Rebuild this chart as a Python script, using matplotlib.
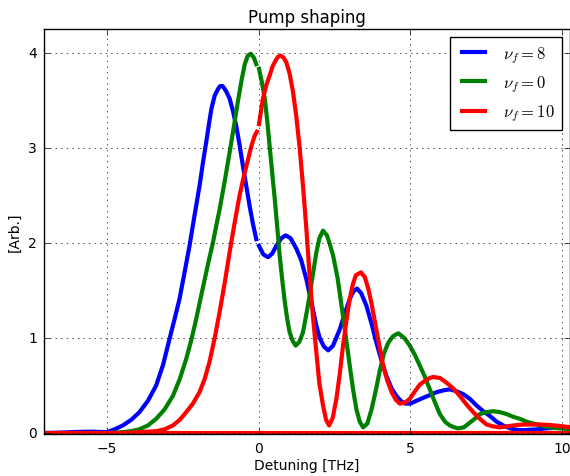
import numpy as np
import matplotlib
matplotlib.use("Agg")
import matplotlib.pyplot as plt

nan = np.nan

# values (gap at zero detuning kept as nan)
blue_x = [-7.1, -6.5, -6.0, -5.5, -5.0, -4.75, -4.48, -4.2, -3.93, -3.65, -3.38, -3.15,
          -2.94, -2.78, -2.61, -2.45, -2.28, -2.12, -1.95, -1.84, -1.73, -1.64, -1.56,
          -1.45, -1.34, -1.27, -1.19, -1.08, -0.96, -0.85, -0.74, -0.63, -0.52, -0.41,
          -0.3, -0.19, -0.08, nan,
          0.01, 0.15, 0.31, 0.45, 0.58, 0.75, 0.89, 1.05, 1.24, 1.4, 1.57, 1.74, 1.9, 2.01,
          2.15, 2.29, 2.45, 2.67, 2.85, 3.0, 3.12, 3.24, 3.38, 3.55, 3.72, 3.88, 4.05,
          4.21, 4.38, 4.54, 4.68, 4.82, 5.0, 5.2, 5.42, 5.64, 5.86, 6.1, 6.3, 6.52,
          6.74, 6.96, 7.18, 7.4, 7.62, 7.84, 8.06, 8.28, 8.5, 8.72, 8.94, 9.2, 9.49,
          9.8, 10.3]
blue_y = [0.0, 0.005, 0.012, 0.015, 0.01, 0.04, 0.08, 0.14, 0.22, 0.34, 0.5, 0.72,
          0.99, 1.19, 1.41, 1.68, 1.97, 2.28, 2.6, 2.84, 3.06, 3.25, 3.41,
          3.55, 3.62, 3.65, 3.65, 3.6, 3.52, 3.39, 3.23, 3.03, 2.81, 2.6,
          2.39, 2.2, 2.04, nan,
          1.97, 1.88, 1.85, 1.89, 1.97, 2.05, 2.08, 2.05, 1.94, 1.82, 1.62, 1.37, 1.13, 1.0,
          0.91, 0.87, 0.92, 1.09, 1.27, 1.41, 1.49, 1.52, 1.47, 1.34, 1.15, 0.95, 0.76,
          0.6, 0.47, 0.39, 0.34, 0.31, 0.31, 0.34, 0.37, 0.4, 0.43, 0.45, 0.46, 0.44,
          0.41, 0.36, 0.29, 0.23, 0.18, 0.12, 0.08, 0.05, 0.035, 0.03, 0.035, 0.04, 0.05,
          0.055, 0.06]

green_x = [-7.1, -6.0, -5.0, -4.48, -4.2, -3.93, -3.65, -3.38, -3.1, -2.83, -2.6, -2.39,
           -2.22, -2.06, -1.9, -1.73, -1.62, -1.51, -1.4, -1.29, -1.12, -0.96, -0.82,
           -0.68, -0.56, -0.46, -0.36, -0.26, -0.16, -0.08, nan,
           0.01, 0.1, 0.2, 0.28, 0.36, 0.45, 0.53, 0.61, 0.69, 0.78, 0.86, 0.94, 1.02,
           1.12, 1.22, 1.34, 1.46, 1.57, 1.68, 1.79, 1.9, 2.0, 2.12, 2.25, 2.35, 2.45,
           2.6, 2.73, 2.87, 3.0, 3.11, 3.22, 3.33, 3.44, 3.58, 3.72, 3.86, 4.0, 4.13,
           4.27, 4.43, 4.6, 4.8, 4.98, 5.15, 5.31, 5.48, 5.64, 5.8, 5.97, 6.14, 6.3,
           6.45, 6.58, 6.76, 6.96, 7.12, 7.29, 7.5, 7.73, 7.95, 8.17, 8.4, 8.61, 8.83,
           9.05, 9.3, 9.6, 9.9, 10.3]
green_y = [0.0, 0.0, 0.0, 0.01, 0.02, 0.04, 0.08, 0.15, 0.25, 0.39, 0.57, 0.78,
           0.98, 1.2, 1.44, 1.69, 1.85, 2.0, 2.18, 2.35, 2.65, 2.95, 3.22,
           3.5, 3.72, 3.88, 3.97, 3.99, 3.95, 3.88, nan,
           3.83, 3.7, 3.52, 3.29, 3.02, 2.72, 2.46, 2.17, 1.87, 1.6, 1.38, 1.2, 1.06,
           0.97, 0.92, 0.96, 1.06, 1.25, 1.45, 1.68, 1.9, 2.05, 2.13, 2.08, 1.98, 1.87,
           1.63, 1.34, 1.02, 0.71, 0.46, 0.25, 0.12, 0.06, 0.1, 0.25, 0.45, 0.67, 0.84,
           0.95, 1.02, 1.05, 1.0, 0.92, 0.82, 0.71, 0.59, 0.46, 0.33, 0.2, 0.12, 0.08,
           0.06, 0.05, 0.06, 0.11, 0.15, 0.2, 0.22, 0.23, 0.22, 0.2, 0.17, 0.15, 0.12,
           0.1, 0.08, 0.06, 0.05, 0.04]

red_x = [-7.1, -6.0, -5.0, -4.5, -4.2, -3.93, -3.65, -3.38, -3.1, -2.83, -2.6, -2.39,
         -2.17, -1.95, -1.78, -1.62, -1.45, -1.29, -1.12, -0.96, -0.8, -0.63, -0.49,
         -0.35, -0.24, -0.13, -0.06, nan,
         0.01, 0.14, 0.25, 0.36, 0.46, 0.56, 0.64, 0.72, 0.82, 0.91, 1.02, 1.13, 1.24,
         1.35, 1.46, 1.57, 1.68, 1.79, 1.9, 2.0, 2.12, 2.22, 2.32, 2.44, 2.56, 2.67,
         2.78, 2.89, 3.0, 3.1, 3.2, 3.37, 3.5, 3.61, 3.72, 3.83, 3.97, 4.1, 4.24, 4.38,
         4.52, 4.65, 4.82, 4.98, 5.15, 5.31, 5.48, 5.64, 5.75, 5.97, 6.19, 6.41, 6.63,
         6.85, 7.07, 7.29, 7.51, 7.73, 7.95, 8.17, 8.39, 8.7, 9.05, 9.3, 9.6, 9.9, 10.3]
red_y = [0.0, 0.0, 0.0, 0.0, 0.005, 0.01, 0.015, 0.02, 0.04, 0.08, 0.14, 0.22,
         0.31, 0.43, 0.57, 0.75, 1.0, 1.27, 1.58, 1.9, 2.2, 2.5, 2.7,
         2.88, 3.02, 3.13, 3.17, nan,
         3.25, 3.52, 3.66, 3.76, 3.86, 3.92, 3.96, 3.97, 3.95, 3.9, 3.78, 3.59, 3.33,
         3.0, 2.6, 2.15, 1.65, 1.22, 0.85, 0.52, 0.29, 0.14, 0.08, 0.16, 0.36, 0.62,
         0.92, 1.18, 1.41, 1.56, 1.66, 1.69, 1.64, 1.52, 1.36, 1.17, 0.93, 0.71, 0.55, 0.43,
         0.35, 0.31, 0.32, 0.36, 0.44, 0.51, 0.55, 0.58, 0.59, 0.58, 0.53, 0.47, 0.39,
         0.3, 0.22, 0.15, 0.09, 0.07, 0.06, 0.07, 0.08, 0.09, 0.09, 0.09, 0.085, 0.075, 0.06]

labels = [r"$\nu_f=8$", r"$\nu_f=0$", r"$\nu_f=10$"]

plt.style.use("classic")
plt.rcParams["figure.facecolor"] = "white"

fig = plt.figure(figsize=(5.7, 4.77), dpi=100)
ax = fig.add_axes([0.077, 0.088, 0.923, 0.849])

ax.plot(blue_x, blue_y, color="b", lw=3, label=labels[0])
ax.plot(green_x, green_y, color="g", lw=3, label=labels[1])
ax.plot(red_x, red_y, color="r", lw=3, label=labels[2])
ax.axhline(0, color="r", lw=3)

ax.set_xlim(-7.08, 10.26)
ax.set_ylim(-0.01, 4.25)
ax.set_xticks([-5, 0, 5, 10])
ax.set_yticks([0, 1, 2, 3, 4])
ax.grid(True)
ax.tick_params(labelsize=10, pad=5)

ax.set_title("Pump shaping", fontsize=12)
ax.set_xlabel("Detuning [THz]", fontsize=10, labelpad=2)
ax.set_ylabel("[Arb.]", fontsize=10)
ax.legend(loc="upper right", fontsize=12, handlelength=2.0)

fig.savefig("out.png", dpi=100, facecolor="white")
